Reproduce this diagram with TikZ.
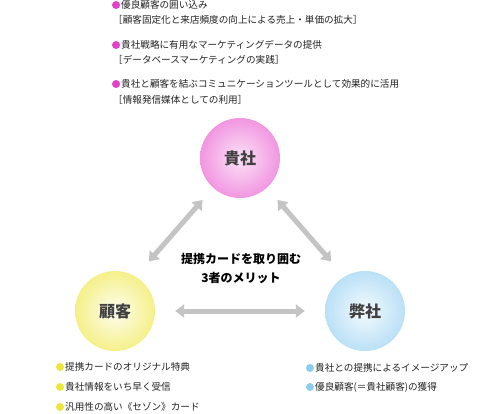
\documentclass[tikz,border=0pt]{standalone}
\usepackage{fontspec}
\setmainfont{Noto Sans CJK JP}
\usetikzlibrary{arrows.meta}
\definecolor{pinkc}{HTML}{E640C8}
\definecolor{yellowc}{HTML}{EEE63A}
\definecolor{bluec}{HTML}{8CCCF0}
\definecolor{txt}{HTML}{222222}
\definecolor{arrowc}{HTML}{C4C4C4}
\tikzset{
  item/.style={anchor=west, inner sep=0pt, text=txt, font=\fontsize{9.6}{11}\selectfont},
  dot/.style={circle, fill=#1, inner sep=0pt, minimum size=8pt},
  party/.style={circle, minimum size=80pt, inner sep=0pt, text=black!75, font=\fontsize{16}{18}\selectfont\bfseries},
  bigarrow/.style={draw=arrowc, line width=5pt, {Triangle[width=13pt,length=9pt]}-{Triangle[width=13pt,length=9pt]}},
  centertext/.style={align=center, inner sep=0pt, font=\fontsize{12}{19}\selectfont\bfseries}
}
\begin{document}
\begin{tikzpicture}[x=1pt,y=-1pt]
\useasboundingbox (0,0) rectangle (481,413);
% top list
\node[dot=pinkc] (d1) at (116,5) {};
\node[item] (t1) at (121,5) {優良顧客の囲い込み};
\node[item] (t2) at (113,20) {［顧客固定化と来店頻度の向上による売上・単価の拡大］};
\node[dot=pinkc] (d2) at (116,45) {};
\node[item] (t3) at (121,45) {貴社戦略に有用なマーケティングデータの提供};
\node[item] (t4) at (113,60) {［データベースマーケティングの実践］};
\node[dot=pinkc] (d3) at (116,84) {};
\node[item] (t5) at (121,84) {貴社と顧客を結ぶコミュニケーションツールとして効果的に活用};
\node[item] (t6) at (113,100) {［情報発信媒体としての利用］};
% circles
\node[party, inner color=pinkc!15, outer color=pinkc!55] (kisha) at (240,158) {貴社};
\node[party, inner color=yellowc!8, outer color=yellowc!60] (kokyaku) at (115,311) {顧客};
\node[party, inner color=bluec!10, outer color=bluec!60] (heisha) at (365,311) {弊社};
% arrows
\draw[bigarrow, shorten <=16pt, shorten >=20pt] (kisha.228) -- (kokyaku.59);
\draw[bigarrow, shorten <=16pt, shorten >=20pt] (kisha.312) -- (heisha.121);
\draw[bigarrow, shorten <=20pt, shorten >=20pt] (kokyaku.east) -- (heisha.west);
% center text
\node[centertext] (center) at (241,268) {提携カードを取り囲む\\3者のメリット};
% bottom left
\node[dot=yellowc] (d4) at (60,367) {};
\node[item] (t7) at (65,367) {提携カードのオリジナル特典};
\node[dot=yellowc] (d5) at (60,387) {};
\node[item] (t8) at (65,387) {貴社情報をいち早く受信};
\node[dot=yellowc] (d6) at (60,407) {};
\node[item] (t9) at (65,407) {汎用性の高い《セゾン》カード};
% bottom right
\node[dot=bluec] (d7) at (310,368) {};
\node[item] (t10) at (315,368) {貴社との提携によるイメージアップ};
\node[dot=bluec] (d8) at (310,387) {};
\node[item] (t11) at (315,387) {優良顧客(＝貴社顧客)の獲得};
\end{tikzpicture}
\end{document}
